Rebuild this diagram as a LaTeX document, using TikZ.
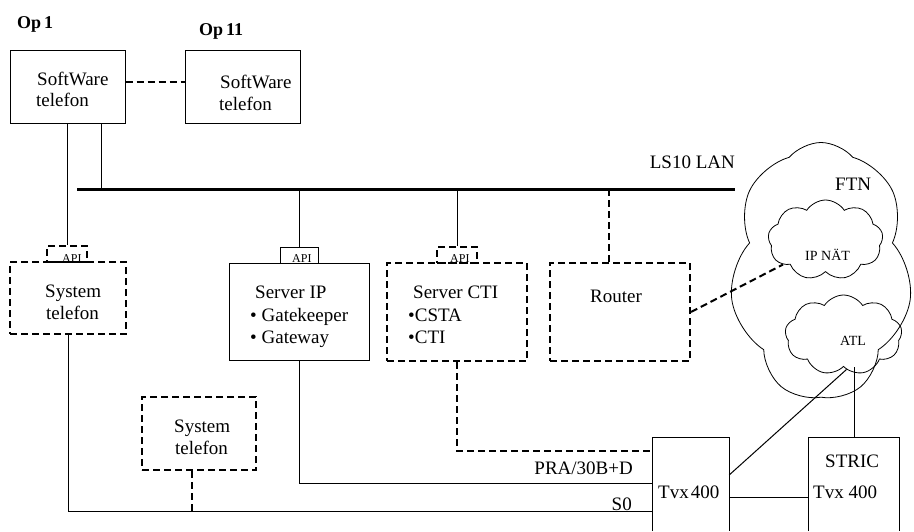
\documentclass[tikz,border=0pt]{standalone}
\usepackage{fontspec}
\setmainfont{Liberation Serif}
\usetikzlibrary{shapes.symbols}
\begin{document}
\begin{tikzpicture}[x=1pt,y=-1pt,
  box/.style={draw, line width=1pt, inner sep=0pt},
  dbox/.style={draw, line width=2pt, dash pattern=on 7pt off 4pt, inner sep=0pt},
  ln/.style={line width=1pt},
  dln/.style={line width=2pt, dash pattern=on 7pt off 4pt},
  txt/.style={inner sep=0pt, anchor=base west, font=\fontsize{19}{22}\selectfont},
  txtr/.style={inner sep=0pt, anchor=base east, font=\fontsize{19}{22}\selectfont},
  bold/.style={inner sep=0pt, anchor=base west, font=\fontsize{18}{22}\selectfont\bfseries},
  apit/.style={inner sep=0pt, anchor=base west, font=\fontsize{12}{14}\selectfont},
  small/.style={inner sep=0pt, anchor=base west, font=\fontsize{14}{16}\selectfont},
  cl/.style={cloud, draw, line width=0.8pt, inner sep=0pt}]
\useasboundingbox (0,0) rectangle (914,531);

% labels Op
\node[bold] (op1) at (17,28) {Op\,1};
\node[bold] (op11) at (199,35) {Op\,11};

% software phones
\node[box, minimum width=115pt, minimum height=73pt] (sw1) at (67.5,86.5) {};
\node[box, minimum width=115pt, minimum height=73pt] (sw2) at (242.5,86.5) {};
\node[txt] (sw1a) at (37,85) {SoftWare};
\node[txt] (sw1b) at (36,106) {telefon};
\node[txt] (sw2a) at (220,88) {SoftWare};
\node[txt] (sw2b) at (219,110) {telefon};

% LAN
\coordinate (lanL) at (77,189);
\coordinate (lanR) at (735,189);
\coordinate (lan1) at (101,189);
\coordinate (lan4) at (609,189);
\coordinate (dashY) at (0,82);
\coordinate (praY) at (0,483);
\coordinate (s0Y) at (0,511);
\coordinate (ctiY) at (0,451);
\coordinate (linkY) at (0,497);
\coordinate (diagY) at (0,475);
\coordinate (s2x) at (192,0);
\node[txtr] (lanlbl) at (735,168) {LS10 LAN};

% API boxes
\node[dbox, minimum width=40pt, minimum height=16pt] (api1) at (67,254) {};
\node[box, minimum width=38pt, minimum height=16pt] (api2) at (299,255) {};
\node[dbox, minimum width=40pt, minimum height=16pt] (api3) at (457,255) {};
\node[apit] (api1t) at (62,262) {API};
\node[apit] (api2t) at (292,262) {API};
\node[apit] (api3t) at (450,262) {API};

% system phone 1
\node[dbox, minimum width=116pt, minimum height=72pt] (sys1) at (68,298) {};
\node[txt] (sys1a) at (45,297) {System};
\node[txt] (sys1b) at (46,319) {telefon};

% server IP
\node[box, minimum width=140pt, minimum height=97pt] (srvip) at (299,311.5) {};
\node[txt] (srvipa) at (255,298) {Server IP};
\node[txt] (srvipb) at (250,321) {• Gatekeeper};
\node[txt] (srvipc) at (250,343) {• Gateway};

% server CTI
\node[dbox, minimum width=140pt, minimum height=98pt] (srvcti) at (457,312) {};
\node[txt] (srvctia) at (413,298) {Server CTI};
\node[txt] (srvctib) at (408,321) {•CSTA};
\node[txt] (srvctic) at (408,343) {•CTI};

% router
\node[dbox, minimum width=140pt, minimum height=98pt] (router) at (620,312) {};
\node[txt] (routert) at (590,302) {Router};

% system phone 2
\node[dbox, minimum width=114pt, minimum height=73pt] (sys2) at (199,433.5) {};
\node[txt] (sys2a) at (174,432) {System};
\node[txt] (sys2b) at (175,454) {telefon};

% Tvx and STRIC (open at bottom)
\node[inner sep=0pt, minimum width=76pt, minimum height=93pt] (tvx) at (691,484.5) {};
\node[inner sep=0pt, minimum width=90pt, minimum height=93pt] (stric) at (854,484.5) {};
\draw[ln] (tvx.south west) -- (tvx.north west) -- (tvx.north east) -- (tvx.south east);
\draw[ln] (stric.south west) -- (stric.north west) -- (stric.north east) -- (stric.south east);
\node[txt] (tvxt) at (658,498) {Tvx\hspace{2pt}400};
\node[txt] (strict) at (825,467) {STRIC};
\node[txt] (strict2) at (813,498) {Tvx 400};

% clouds
\node[cl, cloud puffs=7, cloud puff arc=100, aspect=0.71, minimum width=183pt, minimum height=257pt] (ftn) at (821,271) {};
\node[cl, cloud puffs=9, cloud puff arc=115, aspect=1.44, minimum width=115pt, minimum height=80pt] (ipnat) at (825.5,240) {};
\node[cl, cloud puffs=9, cloud puff arc=115, aspect=1.46, minimum width=117pt, minimum height=80pt] (atl) at (843.5,335) {};
\node[txt] (ftnt) at (835,190) {FTN};
\node[small] (ipnatt) at (805,260) {IP NÄT};
\node[small] (atlt) at (840,345) {ATL};

% connectors
\draw[dln] (sw1.east |- dashY) -- (sw2.west |- dashY);
\draw[ln] (sw1.south -| api1.north) -- (api1.north);
\draw[ln] (sw1.south -| lan1) -- (lan1);
\draw[line width=3pt] (lanL) -- (lanR);
\draw[ln] (lanL -| api2.north) -- (api2.north);
\draw[ln] (lanL -| api3.north) -- (api3.north);
\draw[dln] (lan4) -- (lan4 |- router.north);
\draw[ln] (sys1.south) |- (tvx.west |- s0Y);
\draw[dln] (s2x |- sys2.south) -- (s2x |- s0Y);
\draw[ln] (srvip.south) |- (tvx.west |- praY);
\draw[dln] (srvcti.south) |- (tvx.west |- ctiY);
\draw[dln] (router.east) -- (ipnat.210);
\draw[ln] (tvx.east |- diagY) -- (atl.275);
\draw[ln] (tvx.east |- linkY) -- (stric.west |- linkY);
\draw[ln] (stric.north) -- (stric.north |- atl.south);

\node[txtr] (pralbl) at (633,474) {PRA/30B+D};
\node[txtr] (s0lbl) at (632,510) {S0};
\end{tikzpicture}
\end{document}
